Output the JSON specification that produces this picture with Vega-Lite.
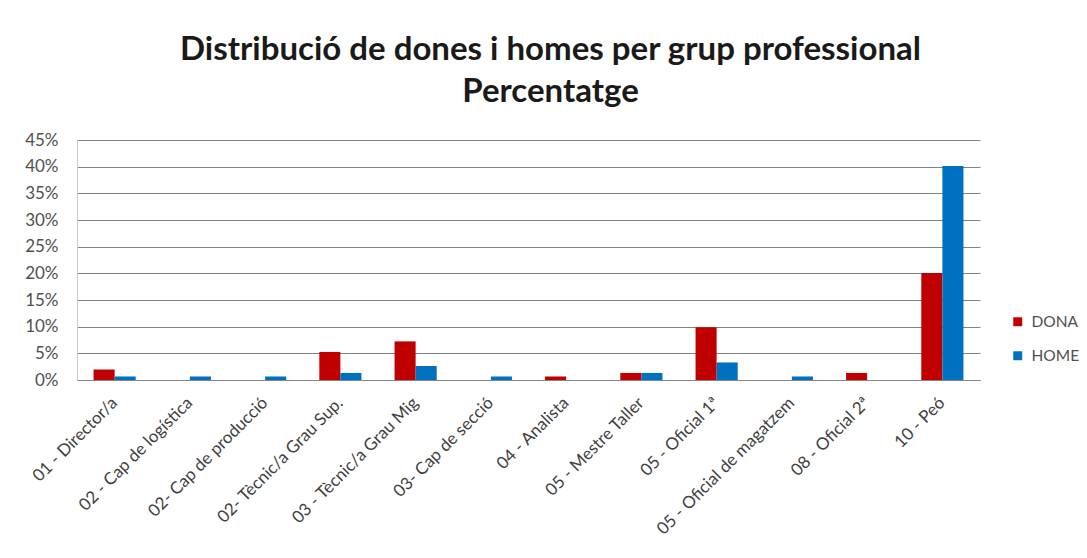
{
  "$schema": "https://vega.github.io/schema/vega-lite/v6.json",
  "autosize": {"type": "none"},
  "padding": {"left": 77, "top": 140, "right": 107, "bottom": 178},
  "width": 903,
  "height": 240,
  "background": "#ffffff",
  "title": {
    "text": ["Distribució de dones i homes per grup professional", "Percentatge"],
    "font": "Lato",
    "fontSize": 33,
    "fontWeight": "bold",
    "color": "#1a1a1a",
    "lineHeight": 42,
    "anchor": "middle",
    "dx": 22,
    "offset": 22
  },
  "data": {
    "values": [
      {"grup": "01 - Director/a", "sexe": "DONA", "pct": 1.97},
      {"grup": "01 - Director/a", "sexe": "HOME", "pct": 0.66},
      {"grup": "02 - Cap de logística", "sexe": "DONA", "pct": 0},
      {"grup": "02 - Cap de logística", "sexe": "HOME", "pct": 0.66},
      {"grup": "02- Cap de producció", "sexe": "DONA", "pct": 0},
      {"grup": "02- Cap de producció", "sexe": "HOME", "pct": 0.66},
      {"grup": "02- Tècnic/a Grau Sup.", "sexe": "DONA", "pct": 5.26},
      {"grup": "02- Tècnic/a Grau Sup.", "sexe": "HOME", "pct": 1.32},
      {"grup": "03 - Tècnic/a Grau Mig", "sexe": "DONA", "pct": 7.24},
      {"grup": "03 - Tècnic/a Grau Mig", "sexe": "HOME", "pct": 2.63},
      {"grup": "03- Cap de secció", "sexe": "DONA", "pct": 0},
      {"grup": "03- Cap de secció", "sexe": "HOME", "pct": 0.66},
      {"grup": "04 - Analista", "sexe": "DONA", "pct": 0.66},
      {"grup": "04 - Analista", "sexe": "HOME", "pct": 0},
      {"grup": "05 - Mestre Taller", "sexe": "DONA", "pct": 1.32},
      {"grup": "05 - Mestre Taller", "sexe": "HOME", "pct": 1.32},
      {"grup": "05 - Oficial 1ª", "sexe": "DONA", "pct": 9.87},
      {"grup": "05 - Oficial 1ª", "sexe": "HOME", "pct": 3.29},
      {"grup": "05 - Oficial de magatzem", "sexe": "DONA", "pct": 0},
      {"grup": "05 - Oficial de magatzem", "sexe": "HOME", "pct": 0.66},
      {"grup": "08 - Oficial 2ª", "sexe": "DONA", "pct": 1.32},
      {"grup": "08 - Oficial 2ª", "sexe": "HOME", "pct": 0},
      {"grup": "10 - Peó", "sexe": "DONA", "pct": 20.07},
      {"grup": "10 - Peó", "sexe": "HOME", "pct": 40.13}
    ]
  },
  "mark": {"type": "bar"},
  "encoding": {
    "x": {
      "field": "grup",
      "type": "nominal",
      "sort": null,
      "title": null,
      "scale": {"paddingInner": 0.44, "paddingOuter": 0.22},
      "axis": {
        "labelAngle": -45,
        "labelAlign": "right",
        "labelBaseline": "middle",
        "labelFont": "Lato",
        "labelFontSize": 17,
        "labelColor": "#404040",
        "labelPadding": 20,
        "labelLimit": 300,
        "ticks": false,
        "domainColor": "#868686",
        "grid": false
      }
    },
    "xOffset": {"field": "sexe", "type": "nominal", "sort": ["DONA", "HOME"], "scale": {"paddingInner": 0, "paddingOuter": 0}},
    "y": {
      "field": "pct",
      "type": "quantitative",
      "title": null,
      "scale": {"domain": [0, 45], "nice": false},
      "axis": {
        "values": [0, 5, 10, 15, 20, 25, 30, 35, 40, 45],
        "labelExpr": "datum.value + '%'",
        "labelFont": "Lato",
        "labelFontSize": 17,
        "labelColor": "#505050",
        "labelPadding": 19,
        "ticks": false,
        "domainColor": "#c8c8c8",
        "gridColor": "#808080",
        "gridWidth": 1
      }
    },
    "color": {
      "field": "sexe",
      "type": "nominal",
      "title": null,
      "scale": {"domain": ["DONA", "HOME"], "range": ["#C00000", "#0070C0"]},
      "legend": {
        "orient": "none",
        "legendX": 933,
        "legendY": 174,
        "symbolType": "square",
        "symbolSize": 80,
        "labelFont": "Lato",
        "labelFontSize": 15.5,
        "labelColor": "#505050",
        "rowPadding": 17,
        "labelOffset": 6
      }
    }
  },
  "config": {"view": {"stroke": null}}
}
